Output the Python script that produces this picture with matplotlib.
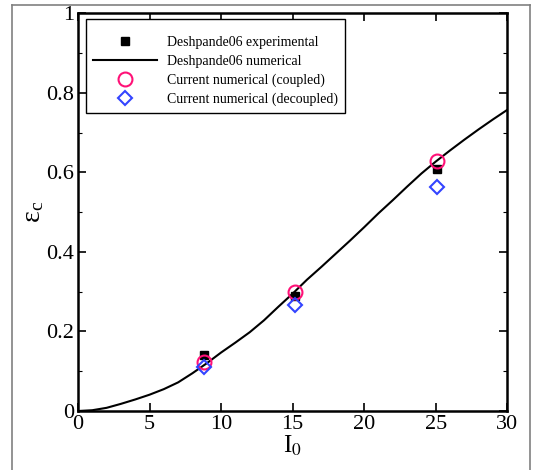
import matplotlib
matplotlib.use("Agg")
import matplotlib.pyplot as plt
from matplotlib.lines import Line2D
from matplotlib.ticker import MultipleLocator

plt.rcParams['font.family'] = ['Liberation Serif', 'DejaVu Serif']
plt.rcParams['mathtext.fontset'] = 'stix'

# Deshpande06 numerical curve
num_I0 = [0, 1, 2, 3, 4, 5, 6, 7, 8, 9, 10, 11, 12, 13, 14, 15, 16, 17, 18, 19,
          20, 21, 22, 23, 24, 25, 26, 27, 28, 29, 30]
num_eps = [0.0, 0.002, 0.008, 0.018, 0.029, 0.041, 0.055, 0.072, 0.095, 0.12,
           0.147, 0.172, 0.198, 0.228, 0.262, 0.295, 0.33, 0.362, 0.395, 0.428,
           0.462, 0.497, 0.53, 0.564, 0.597, 0.627, 0.655, 0.682, 0.708, 0.733, 0.757]

# Point data
pt_I0 = [8.8, 15.2, 25.1]
exp_eps = [0.142, 0.29, 0.609]
coupled_eps = [0.124, 0.30, 0.6275]
decoupled_eps = [0.11, 0.267, 0.563]

labels = ["Deshpande06 experimental", "Deshpande06 numerical",
          "Current numerical (coupled)", "Current numerical (decoupled)"]

fig = plt.figure(figsize=(5.34, 4.70), dpi=100)
ax = fig.add_axes([0.146, 0.1255, 0.804, 0.8465])

# outer grey frame
W, H = 534, 470
fig.add_artist(Line2D([12 / W, 12 / W], [0, 1 - 5 / H], transform=fig.transFigure, color='#808080', lw=1.2))
fig.add_artist(Line2D([12 / W, 530 / W], [1 - 5 / H, 1 - 5 / H], transform=fig.transFigure, color='#808080', lw=1.2))
fig.add_artist(Line2D([530 / W, 530 / W], [0, 1 - 5 / H], transform=fig.transFigure, color='#808080', lw=1.2))

ax.plot(pt_I0, exp_eps, 's', color='black', ms=6, label=labels[0], zorder=3)
ax.plot(num_I0, num_eps, '-', color='black', lw=1.5, label=labels[1], zorder=2)
ax.plot(pt_I0, coupled_eps, 'o', mfc='none', mec='#FF1177', mew=1.5, ms=10, label=labels[2], zorder=4)
ax.plot(pt_I0, decoupled_eps, 'D', mfc='none', mec='#3344FF', mew=1.5, ms=7.5, label=labels[3], zorder=4)

ax.set_xlim(0, 30)
ax.set_ylim(0, 1)
ax.set_xticks([0, 5, 10, 15, 20, 25, 30])
ax.set_yticks([0, 0.2, 0.4, 0.6, 0.8, 1])
ax.set_yticklabels(['0', '0.2', '0.4', '0.6', '0.8', '1'])
ax.yaxis.set_minor_locator(MultipleLocator(0.1))
ax.tick_params(which='both', direction='in', top=True, right=True, labelsize=16, pad=3)
ax.tick_params(which='major', length=6, width=1.2)
ax.tick_params(which='minor', length=3, width=0.8)
for s in ax.spines.values():
    s.set_linewidth(1.8)

ax.set_xlabel(r'I$_0$', fontsize=18, labelpad=0)
ax.set_ylabel('ε$_\\mathregular{c}$', fontsize=20, labelpad=0)

leg = ax.legend(loc='upper left', bbox_to_anchor=(0.019, 0.985), fontsize=10,
                frameon=True, fancybox=False, edgecolor='black', framealpha=1,
                handlelength=4.6, handletextpad=0.7, labelspacing=0.42,
                borderpad=0.5, borderaxespad=0, title=' ', title_fontsize=3)
leg.get_frame().set_linewidth(1.0)

fig.savefig('out.png', dpi=100)
